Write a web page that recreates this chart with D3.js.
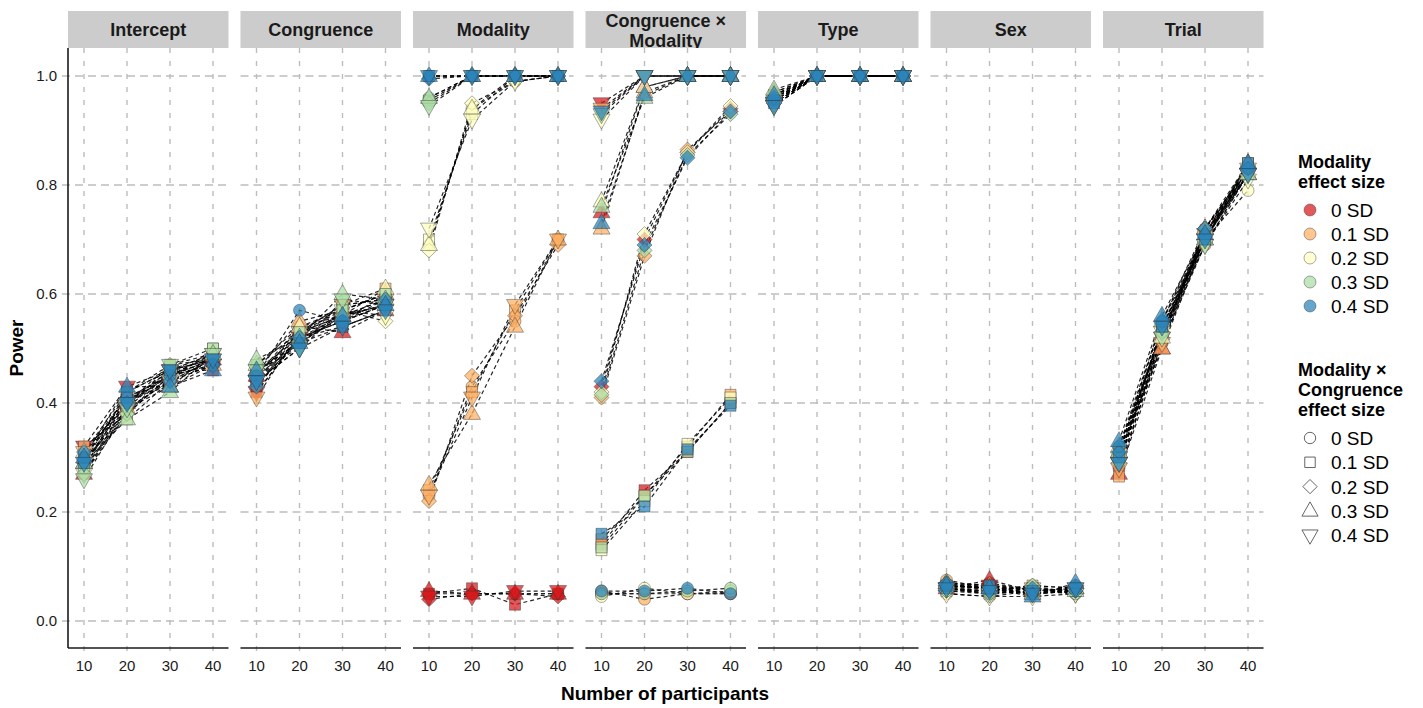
<!DOCTYPE html>
<html><head><meta charset="utf-8">
<script src="https://cdn.jsdelivr.net/npm/d3@7"></script>
<style>body{margin:0;background:#fff;font-family:Arial,"Liberation Sans",sans-serif}</style>
</head><body><svg id="c" width="1423" height="708"></svg>
<script>
// ---------------- data ----------------
const participants = [10, 20, 30, 40];
const facets = ["Intercept", "Congruence", "Modality", "Congruence × Modality", "Type", "Sex", "Trial"];
const modalityLevels = ["0 SD", "0.1 SD", "0.2 SD", "0.3 SD", "0.4 SD"];
const interactionLevels = ["0 SD", "0.1 SD", "0.2 SD", "0.3 SD", "0.4 SD"];
const yTicks = [0.0, 0.2, 0.4, 0.6, 0.8, 1.0];
// rows ordered: modality 0..4, each with interaction 0..4 ; columns = participants
const powerIntercept = [
 [0.28,0.41,0.45,0.47],[0.31,0.42,0.46,0.46],[0.29,0.39,0.44,0.47],[0.27,0.40,0.45,0.48],[0.32,0.43,0.46,0.47],
 [0.30,0.41,0.44,0.48],[0.32,0.38,0.45,0.49],[0.28,0.42,0.47,0.48],[0.29,0.39,0.43,0.47],[0.31,0.40,0.46,0.49],
 [0.29,0.40,0.45,0.49],[0.30,0.37,0.44,0.50],[0.28,0.38,0.46,0.48],[0.31,0.41,0.43,0.49],[0.27,0.39,0.44,0.48],
 [0.28,0.39,0.46,0.49],[0.30,0.40,0.47,0.50],[0.27,0.38,0.45,0.48],[0.29,0.37,0.42,0.49],[0.26,0.39,0.47,0.49],
 [0.30,0.41,0.45,0.47],[0.29,0.42,0.46,0.48],[0.31,0.40,0.44,0.47],[0.30,0.43,0.43,0.46],[0.29,0.40,0.46,0.48]];
const powerCongruence = [
 [0.43,0.53,0.55,0.58],[0.42,0.52,0.54,0.57],[0.44,0.53,0.56,0.58],[0.45,0.54,0.53,0.57],[0.42,0.52,0.55,0.58],
 [0.44,0.54,0.57,0.60],[0.45,0.53,0.58,0.61],[0.43,0.52,0.56,0.59],[0.46,0.55,0.57,0.60],[0.41,0.53,0.58,0.59],
 [0.45,0.53,0.56,0.59],[0.44,0.52,0.55,0.60],[0.46,0.51,0.57,0.55],[0.47,0.54,0.56,0.61],[0.44,0.50,0.57,0.56],
 [0.46,0.52,0.58,0.59],[0.47,0.53,0.57,0.60],[0.45,0.51,0.56,0.58],[0.48,0.52,0.60,0.59],[0.46,0.50,0.59,0.58],
 [0.45,0.57,0.55,0.58],[0.44,0.51,0.54,0.57],[0.43,0.52,0.55,0.59],[0.46,0.51,0.56,0.58],[0.44,0.50,0.54,0.57]];
const powerModality = [
 [0.05,0.05,0.05,0.05],[0.05,0.06,0.03,0.05],[0.04,0.05,0.05,0.045],[0.055,0.05,0.05,0.05],[0.045,0.045,0.055,0.055],
 [0.23,0.43,0.55,0.70],[0.24,0.42,0.57,0.70],[0.22,0.45,0.56,0.69],[0.25,0.38,0.54,0.70],[0.23,0.41,0.58,0.70],
 [0.69,0.94,0.99,1.0],[0.70,0.93,1.0,1.0],[0.68,0.95,0.99,1.0],[0.69,0.94,1.0,1.0],[0.72,0.92,0.99,1.0],
 [0.96,1.0,1.0,1.0],[0.955,1.0,1.0,1.0],[0.95,1.0,1.0,1.0],[0.96,1.0,1.0,1.0],[0.945,1.0,1.0,1.0],
 [1.0,1.0,1.0,1.0],[1.0,1.0,1.0,1.0],[0.995,1.0,1.0,1.0],[1.0,1.0,1.0,1.0],[1.0,1.0,1.0,1.0]];
const powerInteraction = [
 [0.05,0.05,0.05,0.05],[0.14,0.24,0.31,0.40],[0.43,0.70,0.86,0.94],[0.75,0.98,1.0,1.0],[0.95,1.0,1.0,1.0],
 [0.055,0.04,0.05,0.05],[0.15,0.23,0.32,0.415],[0.41,0.67,0.865,0.935],[0.72,0.97,1.0,1.0],[0.94,1.0,1.0,1.0],
 [0.045,0.06,0.05,0.055],[0.13,0.22,0.325,0.41],[0.42,0.71,0.86,0.945],[0.77,0.98,1.0,1.0],[0.92,1.0,1.0,1.0],
 [0.05,0.05,0.055,0.06],[0.135,0.23,0.31,0.40],[0.415,0.68,0.855,0.93],[0.76,0.96,1.0,1.0],[0.93,1.0,1.0,1.0],
 [0.055,0.055,0.06,0.05],[0.16,0.21,0.315,0.395],[0.44,0.69,0.85,0.935],[0.73,0.965,1.0,1.0],[0.935,1.0,1.0,1.0]];
const powerType = [
 [0.96,1.0,1.0,1.0],[0.965,1.0,1.0,1.0],[0.955,1.0,1.0,1.0],[0.97,1.0,1.0,1.0],[0.95,1.0,1.0,1.0],
 [0.955,1.0,1.0,1.0],[0.96,1.0,1.0,1.0],[0.95,1.0,1.0,1.0],[0.965,1.0,1.0,1.0],[0.945,1.0,1.0,1.0],
 [0.96,1.0,1.0,1.0],[0.955,1.0,1.0,1.0],[0.95,1.0,1.0,1.0],[0.97,1.0,1.0,1.0],[0.945,1.0,1.0,1.0],
 [0.965,1.0,1.0,1.0],[0.96,1.0,1.0,1.0],[0.955,1.0,1.0,1.0],[0.975,1.0,1.0,1.0],[0.95,1.0,1.0,1.0],
 [0.955,1.0,1.0,1.0],[0.95,1.0,1.0,1.0],[0.96,1.0,1.0,1.0],[0.965,1.0,1.0,1.0],[0.945,1.0,1.0,1.0]];
const powerSex = [
 [0.06,0.07,0.055,0.055],[0.065,0.06,0.05,0.06],[0.07,0.065,0.06,0.05],[0.06,0.075,0.055,0.06],[0.055,0.065,0.05,0.055],
 [0.075,0.06,0.06,0.05],[0.06,0.055,0.065,0.06],[0.065,0.06,0.05,0.055],[0.07,0.065,0.055,0.06],[0.06,0.05,0.06,0.05],
 [0.05,0.045,0.055,0.06],[0.055,0.05,0.06,0.055],[0.06,0.055,0.065,0.05],[0.065,0.06,0.05,0.06],[0.05,0.045,0.045,0.05],
 [0.06,0.05,0.055,0.05],[0.065,0.06,0.06,0.055],[0.055,0.055,0.065,0.06],[0.07,0.06,0.05,0.055],[0.06,0.05,0.055,0.06],
 [0.065,0.06,0.05,0.065],[0.06,0.065,0.055,0.06],[0.07,0.055,0.06,0.055],[0.065,0.06,0.045,0.07],[0.06,0.055,0.05,0.06]];
const powerTrial = [
 [0.28,0.51,0.72,0.83],[0.29,0.52,0.71,0.82],[0.30,0.53,0.70,0.83],[0.27,0.50,0.72,0.84],[0.29,0.52,0.71,0.82],
 [0.30,0.51,0.69,0.82],[0.265,0.53,0.70,0.84],[0.29,0.52,0.71,0.83],[0.31,0.50,0.70,0.82],[0.28,0.51,0.70,0.83],
 [0.30,0.52,0.70,0.79],[0.31,0.53,0.71,0.84],[0.29,0.54,0.70,0.83],[0.32,0.52,0.72,0.82],[0.30,0.53,0.69,0.81],
 [0.31,0.53,0.70,0.83],[0.30,0.54,0.71,0.82],[0.32,0.53,0.72,0.83],[0.31,0.55,0.70,0.82],[0.29,0.52,0.69,0.82],
 [0.32,0.55,0.71,0.83],[0.30,0.54,0.70,0.84],[0.31,0.55,0.72,0.83],[0.33,0.56,0.71,0.84],[0.29,0.54,0.70,0.82]];
const facetData = [powerIntercept, powerCongruence, powerModality, powerInteraction, powerType, powerSex, powerTrial];
const palette = ["#d7191c", "#fdae61", "#ffffbf", "#abdda4", "#2b83ba"];

// ---------------- layout ----------------
const svg = d3.select("#c");
const panelTop = 48, panelBottom = 648, stripTop = 11;
const panelW = 160.5, panelStep = 172.5, firstLeft = 68;
const y = d3.scaleLinear().domain([0, 1]).range([621, 76]);
const color = d3.scaleOrdinal().domain(d3.range(5)).range(palette);

function shapePath(s, cx, cy, k) {
  k = k || 1;
  if (s === 0) { const r = 6 * k; return `M${cx - r},${cy}a${r},${r} 0 1,0 ${2 * r},0a${r},${r} 0 1,0 ${-2 * r},0Z`; }
  if (s === 1) { const h = 5.5 * k; return `M${cx - h},${cy - h}h${2 * h}v${2 * h}h${-2 * h}Z`; }
  if (s === 2) { const h = 7.5 * k; return `M${cx},${cy - h}L${cx + h},${cy}L${cx},${cy + h}L${cx - h},${cy}Z`; }
  if (s === 3) { const w = 8.5 * k, t = 9.5 * k, b = 5.5 * k; return `M${cx},${cy - t}L${cx + w},${cy + b}L${cx - w},${cy + b}Z`; }
  const w = 8.5 * k, t = 9.5 * k, b = 5.5 * k; return `M${cx},${cy + t}L${cx + w},${cy - b}L${cx - w},${cy - b}Z`;
}

const defs = svg.append("defs");
defs.append("clipPath").attr("id", "stripclip").append("rect")
  .attr("x", 0).attr("y", stripTop).attr("width", 1423).attr("height", panelTop - stripTop);

facets.forEach((name, fi) => {
  const left = firstLeft + fi * panelStep, right = left + panelW;
  const x = d3.scaleLinear().domain([10, 40]).range([left + 16, left + 145]);
  const g = svg.append("g");
  const cid = "pclip" + fi;
  defs.append("clipPath").attr("id", cid).append("rect")
    .attr("x", left).attr("y", panelTop).attr("width", panelW).attr("height", panelBottom - panelTop);

  // gridlines
  g.selectAll(".hg").data(yTicks).join("line")
    .attr("x1", fi === 0 ? left - 6 : left).attr("x2", right)
    .attr("y1", d => y(d)).attr("y2", d => y(d))
    .attr("stroke", "#bdbdbd").attr("stroke-width", 1.4).attr("stroke-dasharray", "8,5");
  g.selectAll(".vg").data(participants).join("line")
    .attr("x1", d => x(d)).attr("x2", d => x(d))
    .attr("y1", panelTop).attr("y2", panelBottom + 5)
    .attr("stroke", "#bdbdbd").attr("stroke-width", 1.4).attr("stroke-dasharray", "5,8");

  // strip
  g.append("rect").attr("x", left).attr("y", stripTop).attr("width", panelW).attr("height", panelTop - stripTop)
    .attr("fill", "#cccccc");
  const lines = name === "Congruence × Modality" ? ["Congruence ×", "Modality"] : [name];
  const st = g.append("text").attr("clip-path", "url(#stripclip)")
    .attr("text-anchor", "middle").attr("font-weight", "bold").attr("font-size", 18).attr("fill", "#1a1a1a");
  if (lines.length === 1) st.append("tspan").attr("x", (left + right) / 2).attr("y", 36).text(lines[0]);
  else {
    st.append("tspan").attr("x", (left + right) / 2).attr("y", 27).text(lines[0]);
    st.append("tspan").attr("x", (left + right) / 2).attr("y", 47).text(lines[1]);
  }

  // series
  const rows = facetData[fi].map((vals, i) => ({ m: Math.floor(i / 5), s: i % 5, vals }));
  const line = d3.line().x((d, i) => x(participants[i])).y(d => y(d));
  const pg = g.append("g").attr("clip-path", `url(#${cid})`);
  pg.selectAll(".ln").data(rows).join("path")
    .attr("d", r => line(r.vals)).attr("fill", "none")
    .attr("stroke", "#000").attr("stroke-opacity", 0.85).attr("stroke-width", 1.2).attr("stroke-dasharray", "4,3");
  const pts = [];
  rows.forEach(r => r.vals.forEach((v, i) => pts.push({ m: r.m, s: r.s, p: participants[i], v })));
  pg.selectAll(".pt").data(pts).join("path")
    .attr("d", d => shapePath(d.s, x(d.p), y(d.v)))
    .attr("fill", d => color(d.m)).attr("fill-opacity", 0.72)
    .attr("stroke", "#333").attr("stroke-opacity", 0.6).attr("stroke-width", 0.7);

  // x axis
  g.append("line").attr("x1", left).attr("x2", right).attr("y1", panelBottom).attr("y2", panelBottom)
    .attr("stroke", "#1a1a1a").attr("stroke-width", 1.6);
  g.selectAll(".xt").data(participants).join("text")
    .attr("x", d => x(d)).attr("y", 671).attr("text-anchor", "middle").attr("font-size", 15).attr("fill", "#1a1a1a")
    .text(d => d);
});

// y axis
svg.append("line").attr("x1", firstLeft).attr("x2", firstLeft).attr("y1", panelTop).attr("y2", panelBottom)
  .attr("stroke", "#1a1a1a").attr("stroke-width", 1.6);
svg.selectAll(".yt").data(yTicks).join("text")
  .attr("x", 57).attr("y", d => y(d) + 5).attr("text-anchor", "end").attr("font-size", 15).attr("fill", "#1a1a1a")
  .text(d => d3.format(".1f")(d));

// axis titles
svg.append("text").attr("x", 665).attr("y", 700).attr("text-anchor", "middle").attr("font-weight", "bold")
  .attr("font-size", 19).text("Number of participants");
svg.append("text").attr("transform", "translate(23,348) rotate(-90)").attr("text-anchor", "middle")
  .attr("font-weight", "bold").attr("font-size", 19).text("Power");

// legends
const lg = svg.append("g");
[["Modality", 168], ["effect size", 188]].forEach(([t, yy]) =>
  lg.append("text").attr("x", 1298).attr("y", yy).attr("font-weight", "bold").attr("font-size", 18).text(t));
modalityLevels.forEach((lab, i) => {
  const cy = 210 + 24 * i;
  lg.append("path").attr("d", shapePath(0, 1310, cy, 1)).attr("fill", color(i)).attr("fill-opacity", 0.72)
    .attr("stroke", "#333").attr("stroke-opacity", 0.6).attr("stroke-width", 0.7);
  lg.append("text").attr("x", 1331).attr("y", cy + 7).attr("font-size", 19).text(lab);
});
[["Modality ×", 376], ["Congruence", 396], ["effect size", 416]].forEach(([t, yy]) =>
  lg.append("text").attr("x", 1298).attr("y", yy).attr("font-weight", "bold").attr("font-size", 18).text(t));
interactionLevels.forEach((lab, i) => {
  const cy = 438 + 24.3 * i;
  lg.append("path").attr("d", shapePath(i, 1310, cy, 0.95)).attr("fill", "none")
    .attr("stroke", "#555").attr("stroke-width", 0.9);
  lg.append("text").attr("x", 1331).attr("y", cy + 7).attr("font-size", 19).text(lab);
});
</script></body></html>
